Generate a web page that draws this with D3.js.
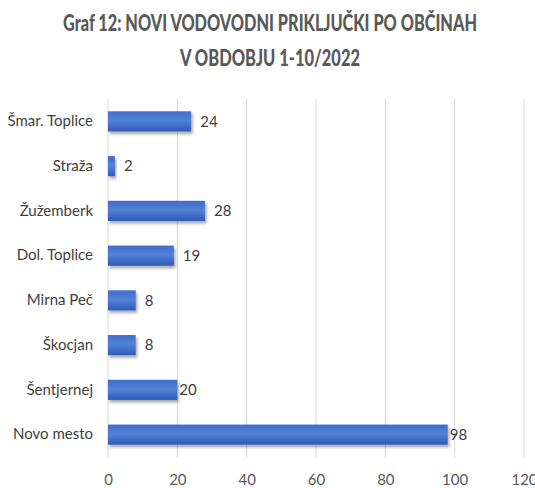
<!DOCTYPE html>
<html><head><meta charset="utf-8">
<script src="https://cdn.jsdelivr.net/npm/d3@7"></script>
<style>
html,body{margin:0;padding:0;background:#fff;}
svg{display:block;}
text{font-family:Lato,"Open Sans",sans-serif;}
</style></head>
<body>
<svg id="chart" width="535" height="488"></svg>
<script>
const titleLines = ["Graf 12: NOVI VODOVODNI PRIKLJUČKI PO OBČINAH", "V OBDOBJU 1-10/2022"];
const titleWidths = [414, 180];
const categories = ["Šmar. Toplice","Straža","Žužemberk","Dol. Toplice","Mirna Peč","Škocjan","Šentjernej","Novo mesto"];
const values = [24, 2, 28, 19, 8, 8, 20, 98];
const xTicks = [0, 20, 40, 60, 80, 100, 120];

const svg = d3.select("#chart");
const defs = svg.append("defs");
const grad = defs.append("linearGradient").attr("id","barGrad").attr("x1",0).attr("y1",0).attr("x2",0).attr("y2",1);
grad.append("stop").attr("offset","0%").attr("stop-color","#3f6cc8");
grad.append("stop").attr("offset","45%").attr("stop-color","#5482d6");
grad.append("stop").attr("offset","100%").attr("stop-color","#2d5ab8");
const f = defs.append("filter").attr("id","shadow").attr("x","-10%").attr("y","-30%").attr("width","130%").attr("height","180%");
f.append("feDropShadow").attr("dx",1.5).attr("dy",2.5).attr("stdDeviation",1.5).attr("flood-color","#000").attr("flood-opacity",0.35);

const x = d3.scaleLinear().domain([0,120]).range([108,524]);
const y = d3.scaleBand().domain(categories).range([99,457]).paddingInner(0.55).paddingOuter(0.275);

// title
svg.selectAll("text.title").data(titleLines).join("text")
  .attr("class","title")
  .attr("x",270).attr("y",(d,i)=>30.5+i*35.5)
  .attr("text-anchor","middle")
  .attr("font-size",22.5).attr("font-weight",900)
  .attr("fill","#595959")
  .attr("textLength",(d,i)=>titleWidths[i])
  .attr("lengthAdjust","spacingAndGlyphs")
  .text(d=>d);

// gridlines
svg.append("g").selectAll("line").data(xTicks).join("line")
  .attr("x1",d=>x(d)).attr("x2",d=>x(d))
  .attr("y1",99).attr("y2",457)
  .attr("stroke","#d9d9d9").attr("stroke-width",1);

// x axis
const xAxis = svg.append("g").attr("transform","translate(0,474)")
  .call(d3.axisBottom(x).tickValues(xTicks).tickSize(0).tickPadding(0));
xAxis.select(".domain").remove();
xAxis.selectAll("text").attr("font-size",15).attr("fill","#595959")
  .style("font-family","Lato,sans-serif");

// y axis
const yAxis = svg.append("g").attr("transform","translate(93,0)")
  .call(d3.axisLeft(y).tickSize(0).tickPadding(0));
yAxis.select(".domain").remove();
yAxis.selectAll("text").attr("font-size",15).attr("fill","#404040")
  .style("font-family","Lato,sans-serif");

// bars
svg.append("g").selectAll("rect").data(values).join("rect")
  .attr("x",x(0))
  .attr("y",(d,i)=>y(categories[i]))
  .attr("width",d=>x(d)-x(0))
  .attr("height",y.bandwidth())
  .attr("fill","url(#barGrad)")
  .attr("filter","url(#shadow)");

// value labels
svg.append("g").selectAll("text").data(values).join("text")
  .attr("x",d=>x(d)+ (d===20||d===98 ? 2 : 9))
  .attr("y",(d,i)=>y(categories[i])+y.bandwidth()/2)
  .attr("dy","0.35em")
  .attr("font-size",15).attr("fill","#404040")
  .text(d=>d);
</script>
</body></html>
